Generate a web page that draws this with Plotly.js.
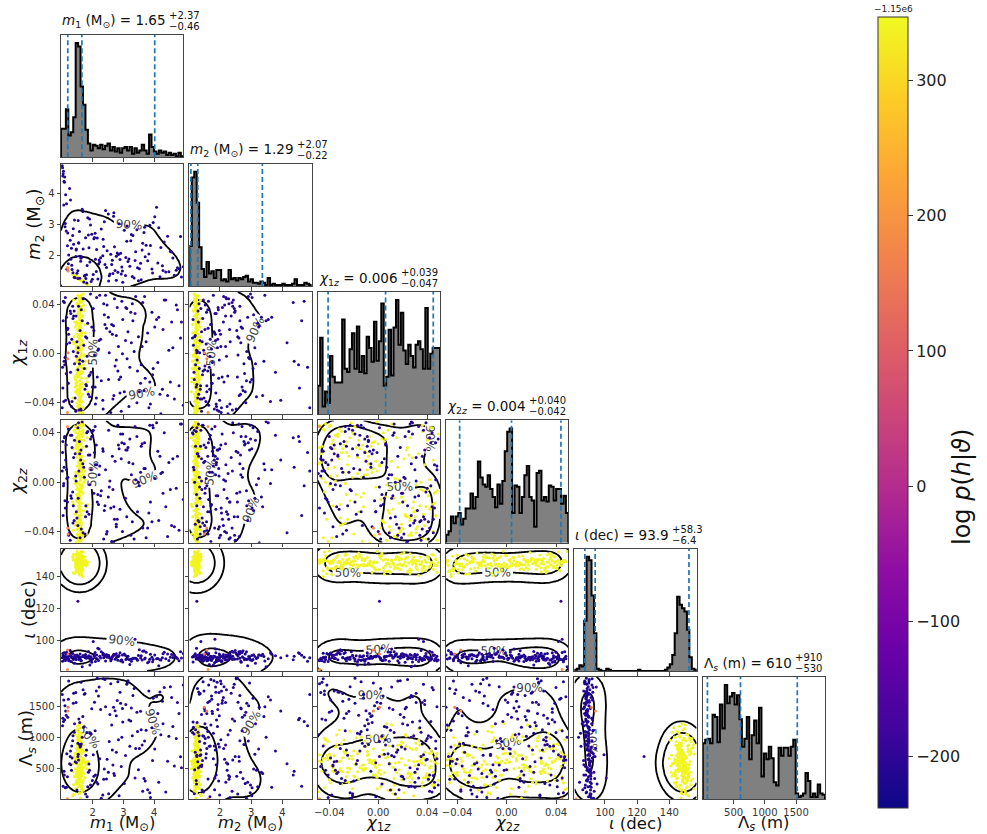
<!DOCTYPE html>
<html>
<head>
<meta charset="utf-8">
<script src="https://cdn.plot.ly/plotly-3.0.1.min.js"></script>
<style>
html,body{margin:0;padding:0;background:#fff}
#chart{width:987px;height:834px}
</style>
</head>
<body>
<div id="chart"></div>
<script>
// ---------------- posterior samples ----------------
// high-likelihood mode
const m1Hi = [
1.58,1.62,1.49,1.55,1.67,1.53,1.60,1.44,1.71,1.57,
1.51,1.64,1.59,1.38,1.56,1.66,1.48,1.61,1.54,1.75,
1.63,1.52,1.57,1.69,1.46,1.58,1.60,1.50,1.65,1.55,
1.42,1.59,1.68,1.53,1.62,1.57,1.47,1.79,1.56,1.61,
1.54,1.66,1.50,1.60,1.35,1.58,1.63,1.52,1.72,1.57,
1.49,1.61,1.56,1.64,1.45,1.59,1.53,1.67,1.58,1.43,
1.60,1.55,1.70,1.51,1.62,1.48,1.57,1.65,1.54,1.82,
1.59,1.46,1.63,1.56,1.52,1.68,1.40,1.58,1.61,1.50,
1.64,1.57,1.53,1.74,1.49,1.60,1.55,1.66,1.47,1.59,
1.62,1.51,1.58,1.37,1.65,1.56,1.60,1.54,1.69,1.52,
1.57,1.63,1.48,1.59,1.55,1.77,1.61,1.50,1.58,1.64,
1.45,1.56,1.62,1.53,1.67,1.59,1.41,1.57,1.60,1.52,
1.66,1.54,1.58,1.49,1.61,1.73,1.56,1.63,1.47,1.58,
1.55,1.60,1.44,1.65,1.57,1.51,1.62,1.80,1.59,1.54,
1.61,1.48,1.57,1.68,1.53,1.60,1.39,1.58,1.64,1.56,
1.50,1.63,1.59,1.55,1.70,1.57,1.46,1.61,1.54,1.66,
1.58,1.52,1.62,1.43,1.59,1.56,1.67,1.60,1.49,1.76,
1.55,1.64,1.51,1.58,1.61,1.36,1.57,1.63,1.53,1.60,
1.47,1.59,1.66,1.54,1.62,1.50,1.71,1.57,1.60,1.45,
1.63,1.56,1.58,1.52,1.65,1.84,1.55,1.61,1.48,1.59];
const m2Hi = [
1.25,1.22,1.30,1.27,1.19,1.29,1.23,1.34,1.16,1.26,
1.29,1.21,1.24,1.38,1.25,1.20,1.31,1.23,1.28,1.13,
1.21,1.29,1.25,1.18,1.33,1.24,1.24,1.30,1.20,1.26,
1.35,1.25,1.18,1.28,1.22,1.26,1.32,1.11,1.26,1.22,
1.27,1.19,1.31,1.23,1.40,1.25,1.22,1.28,1.15,1.25,
1.31,1.23,1.26,1.20,1.33,1.24,1.28,1.19,1.25,1.35,
1.23,1.27,1.17,1.29,1.22,1.31,1.25,1.20,1.27,1.09,
1.24,1.33,1.21,1.26,1.29,1.18,1.37,1.25,1.23,1.30,
1.21,1.25,1.28,1.14,1.31,1.24,1.27,1.19,1.32,1.24,
1.22,1.29,1.25,1.39,1.20,1.26,1.23,1.27,1.17,1.29,
1.26,1.21,1.31,1.24,1.27,1.12,1.23,1.30,1.25,1.21,
1.33,1.26,1.22,1.28,1.19,1.24,1.36,1.25,1.23,1.29,
1.19,1.27,1.25,1.31,1.23,1.15,1.26,1.21,1.32,1.24,
1.27,1.23,1.34,1.20,1.25,1.29,1.22,1.10,1.24,1.28,
1.23,1.31,1.26,1.18,1.28,1.23,1.37,1.25,1.21,1.26,
1.30,1.21,1.24,1.27,1.17,1.25,1.33,1.23,1.27,1.19,
1.25,1.29,1.22,1.35,1.24,1.26,1.19,1.23,1.31,1.13,
1.27,1.21,1.29,1.25,1.23,1.39,1.25,1.21,1.28,1.23,
1.32,1.24,1.19,1.27,1.22,1.30,1.16,1.25,1.23,1.33,
1.21,1.26,1.25,1.29,1.20,1.08,1.27,1.23,1.31,1.24];
const chi1zHi = [
0.012,-0.035,0.041,-0.008,0.027,-0.046,0.003,-0.021,0.036,-0.014,
-0.029,0.018,-0.041,0.044,-0.003,0.031,-0.017,0.007,-0.033,0.024,
0.038,-0.011,0.021,-0.044,0.009,-0.026,0.047,-0.006,0.015,-0.038,
-0.019,0.033,-0.048,0.002,0.042,-0.031,0.026,-0.012,0.011,-0.002,
0.046,-0.024,0.016,-0.037,0.029,-0.009,0.005,-0.043,0.035,-0.016,
-0.004,0.022,-0.034,0.039,-0.021,0.013,-0.047,0.031,0.001,-0.027,
0.027,-0.042,0.008,-0.015,0.048,-0.032,0.019,-0.005,0.034,-0.023,
-0.036,0.004,0.043,-0.018,0.025,-0.045,0.014,-0.028,0.037,-0.007,
0.017,-0.030,0.032,-0.001,-0.040,0.023,-0.013,0.045,0.006,-0.025,
-0.010,0.040,-0.022,0.010,-0.049,0.028,-0.035,0.019,0.049,-0.003,
0.030,-0.016,0.002,-0.039,0.036,-0.006,0.021,-0.029,0.044,-0.044,
-0.024,0.013,-0.011,0.042,-0.033,0.007,0.026,-0.048,0.016,-0.019,
0.004,-0.037,0.035,-0.026,0.018,-0.002,0.047,-0.014,0.024,-0.041,
0.041,-0.008,-0.031,0.011,0.029,-0.043,0.000,-0.020,0.038,-0.034,
-0.046,0.026,0.015,-0.012,0.033,-0.038,0.008,0.046,-0.027,-0.004,
0.020,-0.025,0.039,-0.045,-0.009,0.012,-0.018,0.031,0.003,0.043,
-0.032,0.048,-0.005,0.022,-0.040,0.037,-0.015,0.009,-0.030,0.017,
0.034,-0.020,0.006,-0.047,0.025,-0.036,0.043,-0.001,0.014,-0.028,
-0.013,0.031,-0.039,0.019,0.001,-0.023,0.040,-0.042,0.028,-0.007,
0.010,-0.044,0.045,-0.017,0.036,-0.031,0.023,-0.010,-0.026,0.005];
const chi2zHi = [
-0.022,0.038,-0.006,0.015,-0.043,0.029,-0.031,0.004,0.046,-0.012,
0.027,-0.040,0.011,-0.018,0.033,-0.002,0.020,-0.047,0.039,-0.028,
-0.035,0.006,-0.015,0.042,-0.025,0.024,-0.008,0.013,-0.044,0.031,
0.045,-0.011,0.028,-0.037,0.002,-0.029,0.036,-0.020,0.017,-0.004,
-0.009,0.021,-0.042,0.034,-0.016,0.010,-0.033,0.047,0.000,-0.024,
0.032,-0.027,0.005,-0.046,0.040,-0.013,0.023,-0.038,0.014,-0.001,
-0.041,0.016,-0.023,0.027,-0.007,0.043,-0.034,0.008,-0.019,0.036,
0.012,-0.032,0.044,-0.010,0.022,-0.045,0.003,0.030,-0.026,0.037,
-0.017,0.041,-0.036,0.009,-0.003,0.026,-0.048,0.018,0.035,-0.030,
0.024,-0.005,0.048,-0.039,0.015,-0.021,0.001,-0.012,0.039,-0.043,
-0.028,0.034,-0.014,0.005,-0.046,0.029,0.019,-0.034,0.044,-0.008,
0.008,-0.044,0.025,-0.022,0.037,-0.002,-0.031,0.046,0.012,-0.016,
0.040,-0.019,-0.006,0.033,-0.039,0.017,-0.027,0.004,0.028,-0.048,
-0.011,0.021,-0.035,0.047,-0.024,0.000,0.031,-0.042,0.014,0.038,
0.003,-0.029,0.036,-0.009,0.023,-0.045,0.042,-0.017,-0.033,0.011,
-0.038,0.014,-0.020,0.043,0.006,-0.013,0.028,-0.041,0.035,-0.004,
0.019,-0.047,0.032,-0.026,0.045,-0.007,0.010,-0.036,0.024,0.002,
-0.032,0.039,-0.012,0.016,-0.043,0.027,-0.021,0.049,-0.001,0.008,
0.030,-0.023,0.046,-0.037,0.013,-0.015,0.034,-0.030,0.020,-0.049,
-0.005,0.025,-0.040,0.007,0.041,-0.018,-0.028,0.018,-0.010,0.033];
const iotaHi = [
148.2,145.1,151.3,147.0,143.6,149.8,152.7,146.4,149.1,141.9,
150.4,147.7,144.2,153.5,148.9,146.0,150.9,142.8,148.5,151.8,
145.9,149.5,147.3,155.0,143.1,148.0,150.2,146.8,152.3,144.7,
149.3,140.5,147.9,151.1,145.4,148.6,153.9,146.2,149.9,143.8,
147.5,150.7,144.9,148.4,152.0,146.6,141.2,149.6,147.1,154.3,
145.7,148.8,151.5,143.4,149.2,146.9,150.1,147.6,144.1,152.9,
149.0,145.3,147.8,153.1,142.4,148.3,150.6,146.1,151.9,147.2,
144.5,149.7,146.5,152.5,148.1,139.8,150.3,147.4,145.0,149.4,
151.6,147.0,143.9,148.7,155.6,146.3,149.8,144.3,150.5,148.2,
146.7,152.2,148.9,142.1,150.0,147.3,145.6,153.7,148.4,144.8,
149.5,146.0,151.2,147.7,143.0,149.1,154.7,145.8,148.6,150.8,
147.9,144.6,150.4,146.4,152.8,148.0,141.6,149.3,147.1,151.4,
145.2,149.9,147.5,153.3,144.0,148.5,150.7,146.8,142.7,149.0,
151.0,147.6,145.5,149.6,148.2,152.6,143.7,147.2,150.2,146.1,
148.8,144.4,151.7,147.4,149.4,140.9,150.0,146.5,153.4,148.1,
146.3,150.3,148.7,143.3,151.5,147.8,145.1,149.7,154.1,147.0,
149.2,146.6,142.2,150.6,148.3,145.9,152.1,147.5,144.2,149.8,
147.3,151.9,146.2,148.9,143.5,150.1,147.9,155.3,145.6,148.4,
150.9,145.0,149.1,146.7,152.4,144.9,148.6,141.4,150.3,147.7,
145.8,149.3,153.0,147.1,144.6,148.8,151.3,146.9,149.5,143.2];
const lambdaHi = [
520,845,310,640,995,455,720,180,590,1080,
670,385,930,240,560,805,445,1150,615,350,
760,495,110,880,585,290,690,1010,430,545,
365,950,620,205,740,470,825,560,1195,395,
600,275,870,510,60,705,435,960,640,330,
815,555,1040,380,650,230,525,905,470,745,
410,680,150,785,580,1115,320,620,875,495,
705,260,535,990,430,660,85,770,345,595,
480,895,615,360,730,1020,550,215,665,440,
850,390,700,570,125,805,475,925,310,630,
545,1065,405,690,270,590,835,450,755,195,
660,340,940,505,610,1220,380,720,25,565,
795,455,585,300,870,520,675,1000,415,640,
350,725,495,160,610,960,435,780,555,885,
605,280,810,465,1135,540,690,235,745,400,
910,505,355,650,770,95,580,425,980,620,
455,740,575,1045,320,665,510,860,250,600,
700,380,1175,530,625,445,795,175,585,955,
490,820,270,660,560,1095,415,710,335,635,
575,985,440,740,205,615,860,500,365,1005];
const logpHi = [
342,345,339,346,341,343,337,344,340,346,
344,338,345,341,347,336,343,340,345,342,
346,340,343,338,345,341,347,339,344,342,
339,344,341,346,343,337,345,340,342,346,
343,347,340,344,335,342,346,341,338,345,
341,345,343,339,346,340,344,337,345,342,
346,341,338,345,342,344,340,347,343,336,
340,344,346,342,339,345,341,343,346,338,
345,339,343,347,341,344,337,342,346,340,
342,346,340,344,338,345,343,341,347,339,
344,340,345,338,346,342,344,339,343,347,
338,343,346,341,345,340,344,342,337,346,
346,342,339,345,341,347,340,344,343,338,
341,345,343,337,346,342,339,345,340,344,
343,339,346,342,345,338,344,341,347,340,
345,341,338,346,343,340,345,342,339,344,
340,346,342,344,338,345,341,347,343,339,
344,338,345,341,346,340,343,339,346,342,
342,347,340,345,339,344,341,346,338,343,
346,341,344,339,345,342,336,343,340,345];

// low-likelihood mode
const m1Lo = [
1.12,2.45,3.61,1.73,4.38,2.08,1.29,3.12,2.77,1.55,
1.04,2.91,4.72,1.86,3.35,2.23,1.41,3.88,2.56,1.63,
1.21,3.07,2.34,4.15,1.95,2.68,1.08,3.52,4.61,1.47,
1.35,2.12,3.79,1.68,4.89,2.59,1.16,3.24,2.86,1.81,
1.02,2.71,4.27,1.59,3.44,2.17,1.38,3.95,2.40,1.90,
1.25,3.18,2.02,4.53,1.77,2.95,1.10,3.67,4.08,1.52,
1.45,2.38,3.58,1.52,4.81,2.64,1.06,3.29,2.13,1.97,
1.18,2.82,4.44,1.71,3.08,2.28,1.32,3.83,2.51,1.58,
1.03,3.40,2.19,4.66,1.84,2.73,1.27,3.15,4.22,1.49,
1.40,2.06,3.71,1.66,4.95,2.47,1.14,3.49,2.89,1.93,
1.07,2.62,4.33,1.78,3.26,2.33,1.36,3.97,2.04,1.61,
1.22,3.03,2.54,4.76,1.88,2.98,1.01,3.63,4.12,1.53,
1.33,2.26,3.86,1.69,4.48,2.69,1.19,3.21,2.80,1.99,
1.05,2.93,4.57,1.57,3.38,2.15,1.43,3.74,2.42,1.82,
1.28,3.11,2.09,4.29,1.75,2.84,1.11,3.56,4.86,1.46,
1.37,2.52,3.93,1.62,4.02,2.36,1.09,3.31,2.66,1.91,
1.15,2.77,4.19,1.54,3.46,2.21,1.31,3.69,2.97,1.80];
const m2Lo = [
3.95,1.62,2.18,1.34,1.47,2.71,1.88,2.95,1.21,2.40,
4.62,2.07,1.53,2.66,1.28,1.79,3.14,2.32,1.41,1.95,
1.74,1.36,2.52,2.89,1.17,3.26,4.35,1.58,1.92,2.21,
2.64,1.49,1.83,3.41,1.31,2.04,1.56,2.47,3.02,1.12,
4.81,2.28,1.67,1.98,2.83,1.25,2.36,1.44,1.71,3.17,
4.15,1.89,1.39,2.13,2.57,1.63,2.92,2.74,3.55,1.51,
1.97,3.08,1.22,1.26,1.58,1.85,3.62,1.33,2.19,2.68,
2.31,1.46,2.62,1.15,1.94,2.85,1.69,2.05,3.33,1.27,
4.55,2.12,1.73,1.37,3.21,1.52,2.49,1.81,2.26,1.43,
1.30,2.58,1.96,3.48,1.64,2.15,2.79,1.19,1.87,2.98,
4.38,1.71,2.43,1.26,2.67,1.99,1.45,3.06,2.54,1.82,
2.02,2.81,1.35,1.61,2.25,1.14,4.88,2.39,1.76,3.12,
1.55,1.93,2.97,2.21,1.48,3.37,2.72,1.66,2.08,1.24,
4.70,1.41,2.11,2.77,1.84,2.56,1.29,2.33,3.44,1.68,
3.78,2.46,1.88,1.52,1.37,2.03,3.03,1.75,2.61,2.18,
2.86,1.18,1.57,1.91,3.24,2.29,4.52,2.64,1.42,1.79,
3.66,1.98,1.32,2.41,1.61,1.86,2.23,2.91,1.50,1.38];
const chi1zLo = [
-0.038,0.021,0.006,-0.012,0.044,-0.027,0.033,-0.004,0.015,-0.046,
0.027,-0.019,0.040,-0.033,0.002,0.048,-0.008,-0.041,0.018,0.036,
-0.024,0.011,-0.045,0.030,-0.015,0.023,0.042,-0.031,0.005,-0.002,
0.039,-0.036,0.017,-0.006,0.026,-0.048,0.008,0.034,-0.021,0.013,
-0.011,0.045,-0.029,0.019,-0.040,0.003,0.031,-0.017,0.024,-0.035,
0.009,-0.043,0.037,-0.023,0.014,0.043,-0.003,-0.030,0.028,-0.013,
-0.047,0.032,-0.009,0.001,-0.026,0.016,-0.039,0.041,0.046,0.022,
0.020,-0.014,-0.034,0.007,0.038,-0.022,0.012,-0.044,0.030,-0.005,
-0.028,0.047,0.004,-0.037,0.025,-0.010,0.035,0.018,-0.049,0.010,
0.035,-0.001,-0.020,0.027,-0.042,0.040,-0.016,0.014,-0.032,0.049,
-0.006,0.024,0.044,-0.025,0.009,-0.038,0.029,-0.012,0.019,-0.045,
0.016,-0.031,0.001,0.036,-0.018,0.028,-0.044,0.042,-0.007,0.005,
-0.039,0.012,-0.023,0.045,0.003,-0.034,0.021,-0.011,0.038,-0.027,
0.043,-0.047,0.026,-0.008,0.033,-0.019,-0.036,0.010,0.048,-0.002,
-0.015,0.037,-0.041,0.020,-0.029,0.006,0.046,-0.024,0.013,0.031,
0.002,-0.021,0.034,-0.046,0.022,0.041,-0.009,0.027,-0.037,-0.017,
0.030,-0.005,-0.033,0.039,-0.014,0.011,-0.043,0.047,0.000,-0.026];
const chi2zLo = [
0.018,-0.042,0.031,0.004,-0.020,0.045,-0.011,0.026,-0.034,0.009,
-0.027,0.039,-0.005,0.022,-0.046,0.013,0.034,-0.016,0.001,-0.038,
0.043,-0.013,0.025,-0.031,0.010,-0.049,0.036,-0.003,0.019,-0.024,
-0.008,0.030,-0.037,0.015,0.047,-0.021,0.003,-0.043,0.027,0.040,
0.024,-0.030,0.008,-0.045,0.037,-0.010,0.020,0.046,-0.019,-0.002,
-0.041,0.016,0.042,-0.006,-0.028,0.032,-0.015,0.011,0.048,-0.035,
0.005,-0.023,0.029,0.044,-0.039,0.021,-0.001,-0.032,0.014,0.037,
-0.016,0.046,-0.044,0.012,0.026,-0.007,0.038,-0.025,-0.012,0.023,
0.033,0.002,-0.018,-0.036,0.041,0.017,-0.047,0.028,0.007,-0.029,
-0.031,0.024,0.011,0.049,-0.014,-0.040,0.030,0.000,-0.022,0.035,
0.012,-0.048,0.040,-0.019,0.006,0.027,-0.033,0.044,-0.009,0.018,
-0.043,0.031,-0.004,0.021,-0.026,0.039,0.009,-0.037,0.025,-0.013,
0.028,-0.011,0.046,-0.041,0.016,-0.020,0.004,0.035,-0.030,0.041,
-0.003,0.019,-0.035,0.033,0.045,-0.016,0.023,-0.045,0.010,-0.024,
0.038,-0.028,0.014,-0.009,-0.042,0.030,-0.021,0.008,0.047,0.001,
-0.019,0.042,-0.032,0.026,0.003,-0.046,0.037,0.015,-0.006,0.022,
0.010,-0.036,0.021,0.048,-0.024,0.006,-0.013,0.032,-0.040,0.029];
const iotaLo = [
89.3,91.2,87.8,90.4,88.6,92.5,86.9,89.9,91.7,88.1,
90.8,87.2,89.6,93.1,88.9,90.1,85.8,91.4,89.0,87.6,
88.4,90.6,92.0,84.2,89.8,91.0,88.0,94.2,89.4,90.3,
91.9,88.7,86.2,90.0,89.1,87.4,92.8,88.3,90.7,89.7,
87.0,90.9,89.2,91.6,88.5,95.1,89.5,86.7,90.2,88.8,
90.5,88.2,99.4,89.6,91.3,87.9,90.0,93.6,88.6,89.9,
88.9,91.1,90.4,124.3,87.3,89.8,92.2,88.4,90.9,86.4,
89.7,87.7,91.5,90.2,88.1,92.9,89.3,86.8,90.6,88.9,
91.8,89.0,87.5,90.8,89.4,88.3,93.8,90.1,87.9,91.0,
88.6,90.3,89.1,83.6,91.9,89.5,88.0,90.7,92.4,87.8,
90.1,88.5,92.6,89.3,87.1,90.9,89.8,88.2,91.2,89.6,
87.4,91.5,89.7,88.8,90.5,86.6,89.2,93.3,88.7,90.0,
92.1,89.1,88.3,90.6,87.6,91.4,89.9,85.1,90.2,88.5,
89.5,87.9,91.3,89.0,100.8,88.4,90.8,92.7,87.2,89.8,
90.4,88.6,86.9,91.7,89.4,90.0,87.5,89.1,93.0,88.2,
88.1,90.7,89.6,87.3,91.0,89.2,92.3,88.9,90.3,84.8,
91.4,89.3,88.0,90.1,87.7,94.6,89.7,88.5,90.9,89.0];
const lambdaLo = [
1420,330,875,1690,120,1105,560,1870,760,1290,
215,1545,980,440,1780,655,1215,35,1365,890,
1610,705,1935,280,1050,1480,395,820,1170,590,
945,1740,160,1330,510,1855,735,1260,60,1075,
1185,385,1575,845,1400,250,1705,625,1925,470,
575,1275,720,1810,90,1000,1505,340,1650,905,
1715,490,1120,690,1380,795,1595,1025,280,1455,
365,1890,615,1160,1525,20,860,1740,440,1235,
1305,820,1660,540,205,1425,690,1905,1040,155,
1080,1560,300,1000,1835,645,1350,480,1720,235,
455,1195,1795,710,1470,75,1025,1625,375,860,
1900,260,930,1555,570,1245,1685,135,1380,725,
665,1445,110,1760,1015,420,1320,855,1590,305,
1250,530,1635,885,345,1945,605,1110,1490,45,
780,1850,395,1215,1700,960,190,1415,685,1555,
1545,95,1150,1880,810,325,1280,1670,555,1065,
200,1345,1725,635,1090,1805,470,940,1460,795];
const logpLo = [
-214,-221,-198,-226,-207,-218,-203,-229,-211,-195,
-209,-224,-216,-201,-231,-212,-197,-220,-206,-227,
-218,-203,-228,-211,-194,-223,-208,-215,-230,-200,
-205,-219,-212,-227,-199,-216,-224,-209,-213,-232,
-222,-207,-230,-214,-202,-225,-210,-196,-219,-211,
-200,-226,-213,-208,-221,-204,-229,-217,-206,-215,
-225,-210,-219,-190,-214,-228,-201,-222,-207,-218,
-212,-231,-205,-220,-197,-216,-224,-209,-229,-203,
-219,-208,-227,-213,-223,-199,-215,-230,-206,-221,
-204,-217,-222,-210,-228,-212,-195,-226,-214,-209,
-227,-213,-200,-224,-211,-219,-206,-231,-216,-202,
-210,-229,-218,-205,-222,-214,-228,-201,-220,-212,
-216,-203,-225,-212,-230,-207,-219,-213,-198,-226,
-223,-211,-206,-228,-185,-217,-202,-224,-210,-219,
-208,-226,-214,-199,-218,-223,-211,-205,-227,-215,
-221,-206,-229,-215,-203,-220,-213,-226,-200,-217,
-213,-224,-209,-218,-231,-204,-222,-210,-216,-228];

// intermediate-likelihood samples
const m1Mid     = [1.19, 1.18, 1.20];
const m2Mid     = [1.58, 1.62, 1.50];
const chi1zMid  = [-0.004, -0.048, 0.001];
const chi2zMid  = [-0.037, 0.045, -0.042];
const iotaMid   = [94.0, 82.0, 91.5];
const lambdaMid = [1420, 15, 1480];
const logpMid   = [175, 205, 160];

// ---------------- 1-D marginal histograms (relative bin heights, 50 bins) ----------------
const histM1 = [25,25,42,19,22,35,100,97,62,46, 24,12,6,11,10,8,11,7,10,12,
  6,9,5,8,4,8,9,6,9,3, 8,4,6,11,6,3,20,9,5,3, 6,4,5,2,4,2,3,1,4,1];
const histM2 = [35,95,100,73,34,15,8,21,11,13, 7,14,14,5,6,4,14,6,7,5,
  7,6,8,9,4,6,3,3,2,4, 3,1,7,1,2,1,1,1,2,1, 1,1,2,6,1,1,1,3,2,1];
const histChi1z = [25,67,7,20,10,51,33,28,28,28, 83,40,37,57,71,40,77,37,51,36,
  68,58,46,81,47,64,97,25,33,74, 34,76,100,61,89,56,44,61,51,41, 61,64,57,40,93,40,53,58,58,58];
const histChi2z = [7,10,23,17,23,26,16,21,30,30, 43,30,40,71,57,51,49,59,47,40,
  31,51,34,54,80,97,100,26,50,49, 26,40,59,67,40,37,14,61,63,37, 40,36,50,49,37,47,47,34,41,26];
const histIota = [1,2,5,4,44,100,97,66,33,2, 1,0,0,2,1,0,0,0,0,0,
  0,0,0,0,0,0,1,0,0,0, 0,0,0,0,0,0,0,1,3,6, 14,33,65,58,55,52,36,12,2,1];
const histLambda = [49,52,53,49,74,72,50,83,62,100, 84,90,93,83,91,70,46,53,72,35,
  56,69,49,80,20,40,35,46,36,15, 12,45,38,45,45,38,46,52,5,2, 3,5,23,16,2,5,2,13,5,4];

// ---------------- summary statistics shown above each marginal ----------------
const medians = [1.65, 1.29, 0.006, 0.004, 93.9, 610];
const errPlus = [2.37, 2.07, 0.039, 0.040, 58.3, 910];
const errMinus = [0.46, 0.22, 0.047, 0.042, 6.4, 530];
const decimals = [2, 2, 3, 3, 1, 0];

// ---------------- labels and ticks ----------------
const labels = [
  '<i>m</i><sub>1</sub> (M<sub>⊙</sub>)',
  '<i>m</i><sub>2</sub> (M<sub>⊙</sub>)',
  '<i>χ</i><sub>1<i>z</i></sub>',
  '<i>χ</i><sub>2<i>z</i></sub>',
  '<i>ι</i> (dec)',
  'Λ<sub><i>s</i></sub> (m)'
];
const tickValues = [[2,3,4],[2,3,4],[-0.04,0,0.04],[-0.04,0,0.04],[100,120,140],[500,1000,1500]];
const tickFormats = ['d','d','.2f','.2f','d','d'];
const colorbarTicks = [-200,-100,0,100,200,300];

// ---------------- assemble ----------------
const samples = [
  m1Hi.concat(m1Lo, m1Mid),
  m2Hi.concat(m2Lo, m2Mid),
  chi1zHi.concat(chi1zLo, chi1zMid),
  chi2zHi.concat(chi2zLo, chi2zMid),
  iotaHi.concat(iotaLo, iotaMid),
  lambdaHi.concat(lambdaLo, lambdaMid)
];
const logp = logpHi.concat(logpLo, logpMid);
const hists = [histM1, histM2, histChi1z, histChi2z, histIota, histLambda];

const FONT = 'DejaVu Sans';
const W = 987, H = 834;
const ranges = [[0.97,4.95],[1.02,4.94],[-0.0495,0.0505],[-0.049,0.050],[81,157],[5,1965]];
const panelLeft = [61, 189.35, 317.7, 446.05, 574.4, 702.75];
const panelTop = [35, 163.8, 292.1, 420.4, 548.7, 677];
const panelSize = 122.3;
const titleRight = [157, 291.7, 398.3, 521.7, 654.3, 771.7];
const ylabelX = [0, 35, 18, 18, 29, 27];
const plasma = [[0,'#0d0887'],[0.1,'#41049d'],[0.2,'#6a00a8'],[0.3,'#8f0da4'],[0.4,'#b12a90'],
  [0.5,'#cc4778'],[0.6,'#e16462'],[0.7,'#f2844b'],[0.8,'#fca636'],[0.9,'#fcce25'],[1,'#f0f921']];

const px = x => x / W;
const py = y => 1 - y / H;

// Gaussian KDE on a grid, converted to enclosed-probability levels
function credibleGrid(xs, ys, xr, yr, n) {
  const hx = 0.1 * (xr[1] - xr[0]), hy = 0.1 * (yr[1] - yr[0]);
  const gx = [], gy = [];
  for (let i = 0; i < n; i++) {
    gx.push(xr[0] + (xr[1] - xr[0]) * i / (n - 1));
    gy.push(yr[0] + (yr[1] - yr[0]) * i / (n - 1));
  }
  const kx = xs.map(x => gx.map(g => Math.exp(-0.5 * ((x - g) / hx) ** 2)));
  const ky = ys.map(y => gy.map(g => Math.exp(-0.5 * ((y - g) / hy) ** 2)));
  const dens = [];
  for (let j = 0; j < n; j++) {
    const row = [];
    for (let i = 0; i < n; i++) {
      let s = 0;
      for (let p = 0; p < xs.length; p++) s += kx[p][i] * ky[p][j];
      row.push(s);
    }
    dens.push(row);
  }
  const flat = [];
  dens.forEach((row, j) => row.forEach((v, i) => flat.push([v, j, i])));
  flat.sort((a, b) => b[0] - a[0]);
  const total = flat.reduce((s, a) => s + a[0], 0);
  const z = dens.map(r => r.map(() => 1));
  let cum = 0;
  for (const [v, j, i] of flat) { cum += v; z[j][i] = cum / total; }
  return { x: gx, y: gy, z };
}

const traces = [];
const layout = {
  width: W, height: H,
  margin: { l: 0, r: 0, t: 0, b: 0 },
  showlegend: false,
  paper_bgcolor: '#fff', plot_bgcolor: '#fff',
  font: { family: FONT, color: '#222' },
  annotations: [], shapes: []
};

const baseAxis = {
  showgrid: false, zeroline: false, showline: true, mirror: true,
  linecolor: '#444', linewidth: 1,
  ticks: 'outside', ticklen: 3.5, tickwidth: 1, tickcolor: '#444',
  tickfont: { family: FONT, size: 10, color: '#333' },
  fixedrange: true
};

const titleAnn = [];
let k = 0;
let colorbarDone = false;
for (let r = 0; r < 6; r++) {
  for (let c = 0; c <= r; c++) {
    k++;
    const sfx = k === 1 ? '' : String(k);
    const xName = 'x' + sfx, yName = 'y' + sfx;
    const L = panelLeft[c], T = panelTop[r];
    layout['xaxis' + sfx] = Object.assign({}, baseAxis, {
      domain: [px(L), px(L + panelSize)],
      range: ranges[c], anchor: yName,
      tickvals: tickValues[c], tickformat: tickFormats[c],
      showticklabels: r === 5
    });
    if (r === c) {
      const h = hists[r];
      const hmax = Math.max(...h);
      layout['yaxis' + sfx] = Object.assign({}, baseAxis, {
        domain: [py(T + panelSize), py(T)],
        range: [0, hmax * 1.07], anchor: xName,
        ticks: '', showticklabels: false
      });
      // stepped histogram
      const n = h.length, bw = (ranges[r][1] - ranges[r][0]) / n;
      const hx = [ranges[r][0]], hy = [0];
      for (let i = 0; i < n; i++) { hx.push(ranges[r][0] + i * bw); hy.push(h[i]); }
      hx.push(ranges[r][1]); hy.push(h[n - 1]);
      hx.push(ranges[r][1]); hy.push(0);
      traces.push({
        type: 'scatter', mode: 'lines', x: hx, y: hy, xaxis: xName, yaxis: yName,
        line: { shape: 'hv', color: '#000', width: 2 },
        fill: 'tozeroy', fillcolor: '#808080', hoverinfo: 'skip'
      });
      // quantile markers
      [medians[r] - errMinus[r], medians[r], medians[r] + errPlus[r]].forEach(v => {
        layout.shapes.push({
          type: 'line', xref: xName, yref: yName + ' domain',
          x0: v, x1: v, y0: 0, y1: 1,
          line: { color: '#1f77b4', width: 1.7, dash: '5px,3px' }
        });
      });
      // title with asymmetric errors
      const d = decimals[r];
      titleAnn.push(layout.annotations.length);
      layout.annotations.push({
        xref: 'paper', yref: 'paper', x: px(L - 1), y: py(T - 13.5),
        xanchor: 'left', yanchor: 'middle', showarrow: false,
        text: labels[r] + ' = ' + medians[r].toFixed(d),
        font: { family: FONT, size: 13.5, color: '#111' }
      });
      layout.annotations.push({
        xref: 'paper', yref: 'paper', x: px(titleRight[r]), y: py(T - 19.5),
        xanchor: 'left', yanchor: 'middle', showarrow: false,
        text: '+' + errPlus[r].toFixed(d),
        font: { family: FONT, size: 10, color: '#111' }
      });
      layout.annotations.push({
        xref: 'paper', yref: 'paper', x: px(titleRight[r]), y: py(T - 8.5),
        xanchor: 'left', yanchor: 'middle', showarrow: false,
        text: '−' + errMinus[r].toFixed(d),
        font: { family: FONT, size: 10, color: '#111' }
      });
    } else {
      layout['yaxis' + sfx] = Object.assign({}, baseAxis, {
        domain: [py(T + panelSize), py(T)],
        range: ranges[r], anchor: xName,
        tickvals: tickValues[r], tickformat: tickFormats[r],
        showticklabels: c === 0
      });
      const marker = {
        color: logp, colorscale: plasma, cmin: -238, cmax: 347,
        size: 3, line: { width: 0 }
      };
      if (!colorbarDone) {
        colorbarDone = true;
        marker.showscale = true;
        marker.colorbar = {
          x: px(878), xanchor: 'left', xpad: 0,
          y: py(17), yanchor: 'top', ypad: 0,
          len: 791, lenmode: 'pixels',
          thickness: 30, thicknessmode: 'pixels',
          outlinewidth: 1, outlinecolor: '#333',
          ticks: 'outside', ticklen: 5, tickcolor: '#333',
          tickvals: colorbarTicks,
          tickfont: { family: FONT, size: 16, color: '#222' }
        };
      }
      traces.push({
        type: 'scatter', mode: 'markers', x: samples[c], y: samples[r],
        xaxis: xName, yaxis: yName, marker, hoverinfo: 'skip'
      });
      const g = credibleGrid(samples[c], samples[r], ranges[c], ranges[r], 60);
      traces.push({
        type: 'contour', x: g.x, y: g.y, z: g.z, xaxis: xName, yaxis: yName,
        autocontour: false,
        contours: {
          start: 0.5, end: 0.9, size: 0.4, coloring: 'none',
          showlabels: true, labelformat: '.0%',
          labelfont: { family: FONT, size: 12, color: '#444' }
        },
        line: { color: '#000', width: 1.8, smoothing: 1.2 },
        showscale: false, hoverinfo: 'skip'
      });
    }
    // axis labels on the outer panels
    if (r === 5) {
      layout.annotations.push({
        xref: 'paper', yref: 'paper', x: px(L + panelSize / 2), y: py(823.5),
        xanchor: 'center', yanchor: 'middle', showarrow: false,
        text: labels[c], font: { family: FONT, size: 16.5, color: '#111' }
      });
    }
    if (c === 0 && r > 0) {
      layout.annotations.push({
        xref: 'paper', yref: 'paper', x: px(ylabelX[r]), y: py(T + panelSize / 2),
        xanchor: 'center', yanchor: 'middle', showarrow: false, textangle: -90,
        text: labels[r], font: { family: FONT, size: 18, color: '#111' }
      });
    }
  }
}

// colour bar annotations
layout.annotations.push({
  xref: 'paper', yref: 'paper', x: px(893), y: py(9),
  xanchor: 'center', yanchor: 'middle', showarrow: false,
  text: '−1.15e6', font: { family: FONT, size: 9, color: '#222' }
});
layout.annotations.push({
  xref: 'paper', yref: 'paper', x: px(962), y: py(487),
  xanchor: 'center', yanchor: 'middle', showarrow: false, textangle: -90,
  text: 'log <i>p</i>(<i>h</i>|<i>ϑ</i>)', font: { family: FONT, size: 24, color: '#111' }
});

Plotly.newPlot('chart', traces, layout, { displayModeBar: false, staticPlot: true }).then(gd => {
  // put the +/- error scripts right after each title's measured width
  const box = gd.getBoundingClientRect();
  const upd = {};
  titleAnn.forEach(idx => {
    const t = gd.querySelector('.annotation[data-index="' + idx + '"] text');
    if (!t) return;
    const right = t.getBoundingClientRect().right - box.left;
    upd['annotations[' + (idx + 1) + '].x'] = px(right + 1);
    upd['annotations[' + (idx + 2) + '].x'] = px(right + 1);
  });
  return Plotly.relayout(gd, upd);
});
</script>
</body>
</html>
